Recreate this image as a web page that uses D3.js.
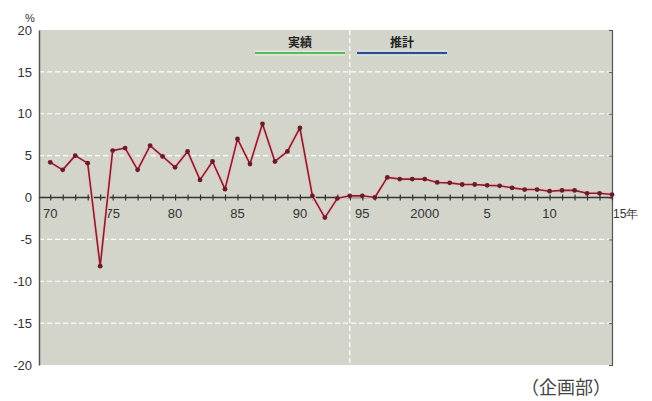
<!DOCTYPE html>
<html><head><meta charset="utf-8">
<script src="https://cdn.jsdelivr.net/npm/d3@7/dist/d3.min.js"></script>
<style>
html,body{margin:0;padding:0;background:#fff;}
svg{display:block;font-family:"Liberation Sans",Arial,sans-serif;}
</style></head>
<body><svg id="c" width="652" height="401"></svg>
<script>
const years = d3.range(1970, 2016);
const values = [4.2,3.3,5.0,4.1,-8.2,5.6,5.9,3.3,6.2,4.9,3.6,5.5,2.1,4.3,1.0,7.0,4.0,8.8,4.3,5.5,8.3,0.2,-2.4,-0.1,0.2,0.2,0.0,2.4,2.2,2.2,2.2,1.8,1.75,1.55,1.55,1.45,1.4,1.15,0.95,0.95,0.75,0.85,0.85,0.5,0.5,0.35];
const yTicks = [20,15,10,5,0,-5,-10,-15,-20];
const gridValues = [15,10,5,-5,-10,-15];
const xLabelYears = [1970,1975,1980,1985,1990,1995,2000,2005,2010];
const xLabels = ["70","75","80","85","90","95","2000","5","10"];
const legendItems = ["実績","推計"];
const legendColors = ["#5cb85a","#2a4f8a"];
const splitYear = 1994;

const svg = d3.select("#c");
const L = 39, R = 612, T = 30, B = 365;
const x = d3.scaleLinear().domain([1969.1, 2015]).range([L, R]);
const y = d3.scaleLinear().domain([-20, 20]).range([B, T]);

svg.append("rect").attr("x", L).attr("y", T).attr("width", R - L).attr("height", B - T).attr("fill", "#d3d4ca");

// grid
svg.selectAll(".grid").data(gridValues).enter().append("line")
  .attr("x1", L).attr("x2", R).attr("y1", d => y(d)).attr("y2", d => y(d))
  .attr("stroke", "#ffffff").attr("stroke-width", 1.2).attr("stroke-dasharray", "5,3");

// split line
svg.append("line").attr("x1", x(splitYear)).attr("x2", x(splitYear)).attr("y1", T).attr("y2", B)
  .attr("stroke", "#ffffff").attr("stroke-width", 1.2).attr("stroke-dasharray", "5,3");

// left axis
const yAxis = d3.axisLeft(y).tickValues(yTicks).tickSize(0).tickPadding(7).tickFormat(d => String(d));
const ga = svg.append("g").attr("transform", `translate(${L},0)`).call(yAxis);
ga.select(".domain").attr("stroke", "#555").attr("stroke-width", 1.5);
ga.selectAll("text").attr("font-size", 13).attr("fill", "#333");
svg.append("text").attr("x", 30).attr("y", 22).attr("text-anchor", "middle").attr("font-size", 11).attr("fill", "#333").text("%");

// right axis line
const gr = svg.append("g").attr("transform", `translate(${R},0)`).call(d3.axisRight(y).tickValues(yTicks).tickSize(-3).tickFormat(""));
gr.select(".domain").attr("stroke", "#555").attr("stroke-width", 1.2);
gr.selectAll(".tick line").attr("stroke", "#555");

// zero axis with yearly ticks
const gx = svg.append("g").attr("transform", `translate(0,${y(0)})`)
  .call(d3.axisBottom(x).tickValues(years).tickSize(0).tickFormat(""));
gx.select(".domain").remove();
svg.append("line").attr("x1", L).attr("x2", R).attr("y1", y(0)).attr("y2", y(0)).attr("stroke", "#333").attr("stroke-width", 1.5);
gx.selectAll(".tick line").attr("y1", -3).attr("y2", 3).attr("stroke", "#333").attr("stroke-width", 1.2);

svg.selectAll(".xl").data(xLabelYears).enter().append("text")
  .attr("x", d => x(d)).attr("y", y(0) + 20).attr("text-anchor", "middle")
  .attr("font-size", 13).attr("fill", "#333").text((d, i) => xLabels[i]);
svg.append("text").attr("x", R + 1).attr("y", y(0) + 20).attr("font-size", 12).attr("fill", "#333").text("15年");

// legend
const lgX = [[255, 345], [357, 447]];
legendItems.forEach((t, i) => {
  svg.append("line").attr("x1", lgX[i][0]).attr("x2", lgX[i][1]).attr("y1", 53).attr("y2", 53)
    .attr("stroke", "#fff").attr("stroke-width", 4.5);
  svg.append("line").attr("x1", lgX[i][0]).attr("x2", lgX[i][1]).attr("y1", 53).attr("y2", 53)
    .attr("stroke", legendColors[i]).attr("stroke-width", 2.5);
  svg.append("text").attr("x", (lgX[i][0] + lgX[i][1]) / 2).attr("y", 47).attr("text-anchor", "middle")
    .attr("font-size", 12).attr("font-weight", "bold").attr("fill", "#222")
    .attr("font-family", "'Noto Sans CJK JP',sans-serif").text(t);
});

// data line
const data = years.map((yr, i) => ({yr, v: values[i]}));
const line = d3.line().x(d => x(d.yr)).y(d => y(d.v));
svg.append("path").datum(data).attr("d", line).attr("fill", "none")
  .attr("stroke", "#f0c0c0").attr("stroke-width", 4).attr("stroke-linejoin", "round");
svg.append("path").datum(data).attr("d", line).attr("fill", "none")
  .attr("stroke", "#7a2430").attr("stroke-width", 1.6).attr("stroke-linejoin", "round");
svg.selectAll(".pt").data(data).enter().append("circle")
  .attr("cx", d => x(d.yr)).attr("cy", d => y(d.v)).attr("r", 2.4).attr("fill", "#6a1c26");

svg.append("text").attr("x", 566).attr("y", 394).attr("text-anchor", "middle").attr("font-size", 18)
  .attr("fill", "#444").attr("font-family", "'Noto Sans CJK JP',sans-serif").text("（企画部）");
</script></body></html>
